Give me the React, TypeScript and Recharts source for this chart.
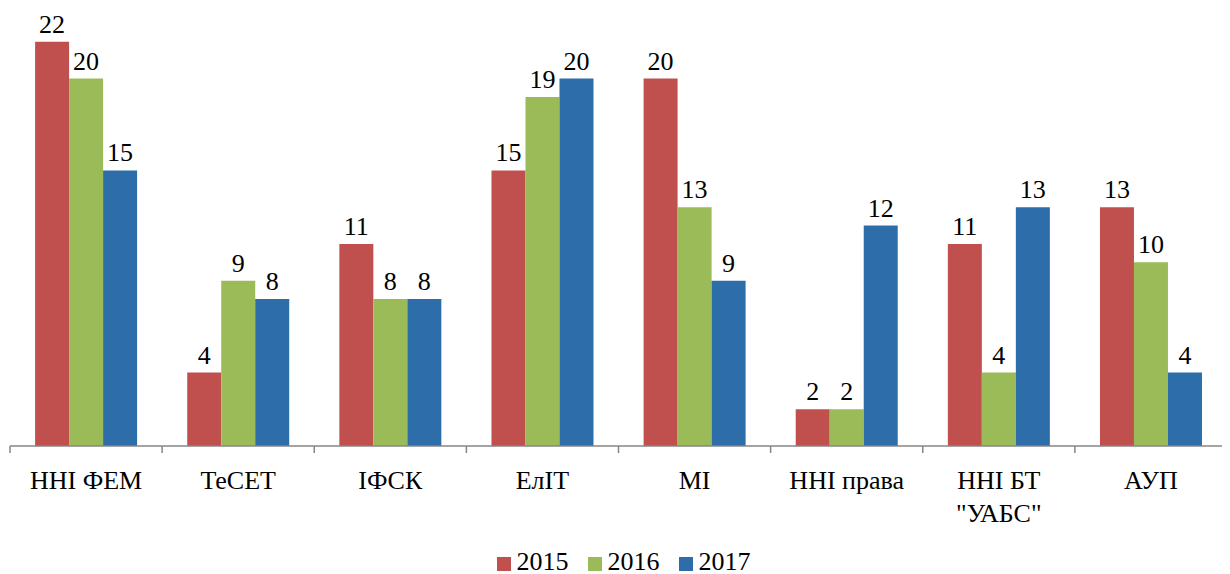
import { BarChart, Bar, XAxis, YAxis, Legend, LabelList } from 'recharts';

const categories = ['ННІ ФЕМ', 'ТеСЕТ', 'ІФСК', 'ЕлІТ', 'МІ', 'ННІ права', 'ННІ БТ\n"УАБС"', 'АУП'];
const values2015 = [22, 4, 11, 15, 20, 2, 11, 13];
const values2016 = [20, 9, 8, 19, 13, 2, 4, 10];
const values2017 = [15, 8, 8, 20, 9, 12, 13, 4];

const series = [
  { key: '2015', color: '#C0504D' },
  { key: '2016', color: '#9BBB59' },
  { key: '2017', color: '#2C6DAA' },
];

const data = categories.map((name, i) => ({
  name,
  '2015': values2015[i],
  '2016': values2016[i],
  '2017': values2017[i],
}));

const FONT = 'Liberation Serif';
const AXIS_COLOR = '#868686';

const CategoryTick = (props: any) => {
  const { x, y, payload, width } = props;
  const half = payload.offset || width / categories.length / 2;
  const lines = String(payload.value).split('\n');
  return (
    <g>
      <line x1={x - half} y1={y} x2={x - half} y2={y + 7} stroke={AXIS_COLOR} strokeWidth={1.5} />
      {payload.index === categories.length - 1 && (
        <line x1={x + half} y1={y} x2={x + half} y2={y + 7} stroke={AXIS_COLOR} strokeWidth={1.5} />
      )}
      <text x={x} y={y + 43} textAnchor="middle" fontFamily={FONT} fontSize={26} fill="#000">
        {lines.map((l, i) => (
          <tspan key={i} x={x} dy={i === 0 ? 0 : 33}>{l}</tspan>
        ))}
      </text>
    </g>
  );
};

const renderLegend = () => (
  <div style={{ height: 28, display: 'flex', justifyContent: 'center', paddingLeft: 10, fontFamily: FONT, fontSize: 26, lineHeight: '26px', paddingTop: 3, boxSizing: 'border-box' }}>
    {series.map((s, i) => (
      <div key={s.key} style={{ display: 'flex', alignItems: 'flex-start', marginLeft: i === 0 ? 0 : 19 }}>
        <span style={{ width: 14, height: 14, background: s.color, marginTop: 8, marginRight: 6, display: 'inline-block' }} />
        <span>{s.key}</span>
      </div>
    ))}
  </div>
);

export default function App() {
  return (
    <div style={{ margin: '-8px 0 0 -8px', width: 1230, height: 574, background: '#fff' }}>
      <BarChart
        width={1230}
        height={574}
        data={data}
        margin={{ top: 5, right: 3, bottom: 0, left: 10 }}
        barCategoryGap="16.5%"
        barGap={0}
      >
        <XAxis
          dataKey="name"
          height={100}
          interval={0}
          tickSize={0}
          tickMargin={0}
          tickLine={false}
          axisLine={{ stroke: AXIS_COLOR, strokeWidth: 1.5 }}
          tick={<CategoryTick />}
        />
        <YAxis hide domain={[0, 24]} />
        <Legend verticalAlign="bottom" height={28} content={renderLegend} />
        {series.map((s) => (
          <Bar key={s.key} dataKey={s.key} fill={s.color} isAnimationActive={false}>
            <LabelList dataKey={s.key} position="top" offset={9} fill="#000" fontSize={26} fontFamily={FONT} />
          </Bar>
        ))}
      </BarChart>
    </div>
  );
}
